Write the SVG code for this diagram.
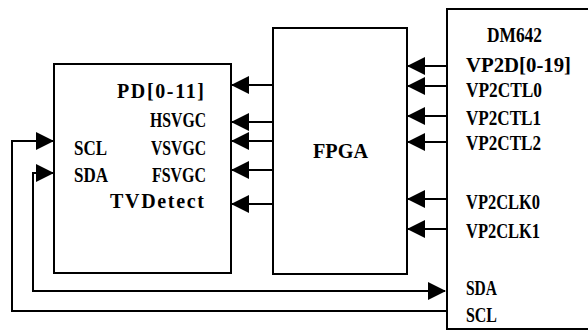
<svg xmlns="http://www.w3.org/2000/svg" width="588" height="331" viewBox="0 0 588 331">
<style>
.box{fill:#fff;stroke:#000;stroke-width:2}
.ln{fill:none;stroke:#000;stroke-width:2}
text{font-family:"Liberation Serif","Times New Roman",serif;font-weight:bold;font-size:20px;fill:#000}
.big{font-size:21px}
</style>
<defs>
<marker id="ah" markerUnits="userSpaceOnUse" markerWidth="18" markerHeight="18" refX="17" refY="9" orient="auto" viewBox="0 0 18 18">
<path d="M0,0 L18,9 L0,18 z" fill="#000"/>
</marker>
</defs>
<rect width="588" height="331" fill="#fff"/>
<g id="encoder">
<rect class="box" x="54" y="64" width="177" height="209"/>
<text x="117" y="98" textLength="87" lengthAdjust="spacing">PD[0-11]</text>
<text x="150" y="127" textLength="56" lengthAdjust="spacingAndGlyphs">HSVGC</text>
<text x="151" y="155" textLength="55" lengthAdjust="spacingAndGlyphs">VSVGC</text>
<text x="152" y="182" textLength="54" lengthAdjust="spacingAndGlyphs">FSVGC</text>
<text x="110" y="208" textLength="94" lengthAdjust="spacing">TVDetect</text>
<text x="74" y="155" textLength="33" lengthAdjust="spacingAndGlyphs">SCL</text>
<text x="74" y="182" textLength="34" lengthAdjust="spacingAndGlyphs">SDA</text>
</g>
<g id="fpga">
<rect class="box" x="273" y="28" width="134" height="246"/>
<text class="big" x="313" y="158" textLength="55" lengthAdjust="spacingAndGlyphs">FPGA</text>
</g>
<g id="dm642">
<rect class="box" x="447" y="9" width="150" height="320"/>
<text x="487" y="42" textLength="55" lengthAdjust="spacingAndGlyphs">DM642</text>
<text x="466" y="72" textLength="105" lengthAdjust="spacingAndGlyphs">VP2D[0-19]</text>
<text x="466" y="97" textLength="76" lengthAdjust="spacingAndGlyphs">VP2CTL0</text>
<text x="466" y="125" textLength="75" lengthAdjust="spacingAndGlyphs">VP2CTL1</text>
<text x="466" y="150" textLength="75" lengthAdjust="spacingAndGlyphs">VP2CTL2</text>
<text x="466" y="209" textLength="74" lengthAdjust="spacingAndGlyphs">VP2CLK0</text>
<text x="466" y="238" textLength="74" lengthAdjust="spacingAndGlyphs">VP2CLK1</text>
<text x="466" y="295" textLength="31" lengthAdjust="spacingAndGlyphs">SDA</text>
<text x="466" y="322" textLength="31" lengthAdjust="spacingAndGlyphs">SCL</text>
</g>
<g id="connectors">
<path class="ln" marker-end="url(#ah)" d="M273,85 H232"/>
<path class="ln" marker-end="url(#ah)" d="M273,122 H232"/>
<path class="ln" marker-end="url(#ah)" d="M273,141 H232"/>
<path class="ln" marker-end="url(#ah)" d="M273,170 H232"/>
<path class="ln" marker-end="url(#ah)" d="M273,204 H232"/>
<path class="ln" marker-end="url(#ah)" d="M447,66 H408"/>
<path class="ln" marker-end="url(#ah)" d="M447,86 H408"/>
<path class="ln" marker-end="url(#ah)" d="M447,116 H408"/>
<path class="ln" marker-end="url(#ah)" d="M447,142 H408"/>
<path class="ln" marker-end="url(#ah)" d="M447,199 H408"/>
<path class="ln" marker-end="url(#ah)" d="M447,229 H408"/>
<path class="ln" marker-end="url(#ah)" d="M447,311 H12 V141 H53"/>
<path class="ln" marker-end="url(#ah)" d="M33,173 V291 H445"/>
<path class="ln" marker-end="url(#ah)" d="M32,173 H53"/>
</g>
</svg>
